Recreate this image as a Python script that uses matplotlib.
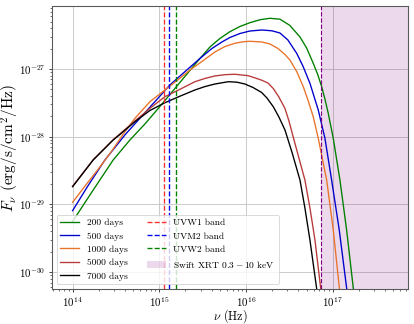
import numpy as np
import matplotlib
matplotlib.use("Agg")
import matplotlib.pyplot as plt

plt.rcParams['font.family'] = 'serif'
plt.rcParams['font.serif'] = ['cmr10']
plt.rcParams['mathtext.fontset'] = 'cm'
plt.rcParams['axes.unicode_minus'] = False
plt.rcParams['axes.formatter.use_mathtext'] = True

# ---------------------------
# Spectra (log10 nu [Hz], log10 F_nu [erg/s/cm^2/Hz])
# ---------------------------
lognu_200 = [14.000, 14.234, 14.468, 14.661, 14.834, 15.007, 15.180, 15.353, 15.468, 15.584,
             15.699, 15.814, 15.930, 16.045, 16.160, 16.276, 16.391, 16.506, 16.622, 16.699,
             16.775, 16.829, 16.872, 16.910, 16.948, 17.006, 17.083, 17.160, 17.242]
logf_200 = [-29.252, -28.795, -28.344, -28.049, -27.812, -27.554, -27.288, -27.022, -26.845, -26.675,
            -26.549, -26.449, -26.372, -26.316, -26.273, -26.251, -26.264, -26.357, -26.527, -26.690,
            -26.916, -27.089, -27.261, -27.443, -27.654, -28.024, -28.640, -29.378, -30.294]

lognu_500 = [14.000, 14.176, 14.373, 14.603, 14.776, 14.949, 15.122, 15.295, 15.468, 15.607,
             15.722, 15.814, 15.930, 16.045, 16.183, 16.299, 16.391, 16.483, 16.584, 16.656,
             16.737, 16.833, 16.910, 16.987, 17.075, 17.166]
logf_500 = [-29.093, -28.728, -28.344, -27.975, -27.728, -27.483, -27.236, -27.040, -26.845, -26.697,
            -26.601, -26.535, -26.476, -26.439, -26.424, -26.436, -26.468, -26.572, -26.768, -26.956,
            -27.211, -27.606, -28.024, -28.640, -29.378, -30.294]

lognu_1000 = [14.000, 14.153, 14.315, 14.453, 14.580, 14.719, 14.892, 15.065, 15.238, 15.353,
              15.468, 15.641, 15.757, 15.872, 15.964, 16.045, 16.183, 16.276, 16.368, 16.449,
              16.506, 16.587, 16.660, 16.714, 16.775, 16.833, 16.930, 17.006, 17.081]
logf_1000 = [-28.969, -28.713, -28.448, -28.211, -27.968, -27.728, -27.483, -27.310, -27.137, -27.015,
             -26.911, -26.749, -26.668, -26.620, -26.598, -26.591, -26.601, -26.631, -26.697, -26.786,
             -26.867, -27.044, -27.261, -27.458, -27.705, -28.024, -28.640, -29.378, -30.294]

lognu_5000 = [14.000, 14.238, 14.468, 14.719, 14.892, 15.065, 15.238, 15.411, 15.526, 15.641,
              15.757, 15.872, 16.025, 16.114, 16.183, 16.253, 16.314, 16.379, 16.449, 16.495,
              16.544, 16.610, 16.679, 16.737, 16.795, 16.866]
logf_5000 = [-28.733, -28.340, -28.044, -27.768, -27.581, -27.409, -27.300, -27.188, -27.140, -27.103,
             -27.084, -27.078, -27.099, -27.136, -27.167, -27.207, -27.288, -27.414, -27.583, -27.768,
             -28.004, -28.315, -28.640, -29.053, -29.526, -30.294]

lognu_7000 = [14.000, 14.238, 14.468, 14.546, 14.719, 14.892, 15.065, 15.238, 15.411, 15.526,
              15.641, 15.795, 15.895, 15.987, 16.080, 16.180, 16.241, 16.314, 16.379, 16.449,
              16.529, 16.622, 16.679, 16.737, 16.820]
logf_7000 = [-28.739, -28.344, -28.049, -27.968, -27.778, -27.613, -27.498, -27.402, -27.310, -27.260,
             -27.222, -27.188, -27.195, -27.222, -27.273, -27.347, -27.428, -27.557, -27.709, -27.901,
             -28.226, -28.640, -29.053, -29.526, -30.294]

curve_labels = ["200 days", "500 days", "1000 days", "5000 days", "7000 days"]
curve_colors = ["green", "mediumblue", "#e8742a", "#b83a3a", "black"]

# Swift UVOT bands and XRT range (Hz)
band_labels = ["UVW1 band", "UVM2 band", "UVW2 band"]
band_nu = [1.12e15, 1.31e15, 1.54e15]
band_colors = ["#ff3030", "blue", "green"]
xrt_lo = 7.25e16   # 0.3 keV
xrt_hi = 2.42e18   # 10 keV

# ---------------------------
# Plot
# ---------------------------
fig = plt.figure(figsize=(6.4, 5.0), dpi=64.84)
ax = fig.add_axes([0.125, 0.108, 0.858, 0.873])

lognus = [lognu_200, lognu_500, lognu_1000, lognu_5000, lognu_7000]
logfs = [logf_200, logf_500, logf_1000, logf_5000, logf_7000]
for lx, ly, lab, col in zip(lognus, logfs, curve_labels, curve_colors):
    ax.plot(10 ** np.array(lx), 10 ** np.array(ly), color=col, lw=1.5, label=lab)

for nu, lab, col in zip(band_nu, band_labels, band_colors):
    ax.axvline(nu, color=col, ls='--', lw=1.5, label=lab)

ax.axvspan(xrt_lo, xrt_hi, color='purple', alpha=0.15, lw=0, label=r"Swift XRT $0.3-10$ keV")
ax.axvline(xrt_lo, color='purple', ls='--', lw=1.3)

ax.set_xscale('log')
ax.set_yscale('log')
ax.set_xlim(10 ** 13.761, 10 ** 17.867)
ax.set_ylim(10 ** -30.25, 10 ** -26.069)
ax.grid(True, color='0.78', lw=1.0)
ax.set_axisbelow(True)
for s in ax.spines.values():
    s.set_color('0.35')
    s.set_linewidth(1.2)
ax.tick_params(which='major', labelsize=12)

ax.set_xlabel(r"$\nu$ (Hz)", fontsize=13.5)
ax.set_ylabel(r"$F_\nu$ (erg/s/cm$^2$/Hz)", fontsize=17)
ax.xaxis.set_label_coords(0.5, -0.064)
ax.yaxis.set_label_coords(-0.086, 0.5)
ax.legend(loc='lower left', ncol=2, fontsize=10.5)

fig.savefig("out.png", dpi=64.84)
